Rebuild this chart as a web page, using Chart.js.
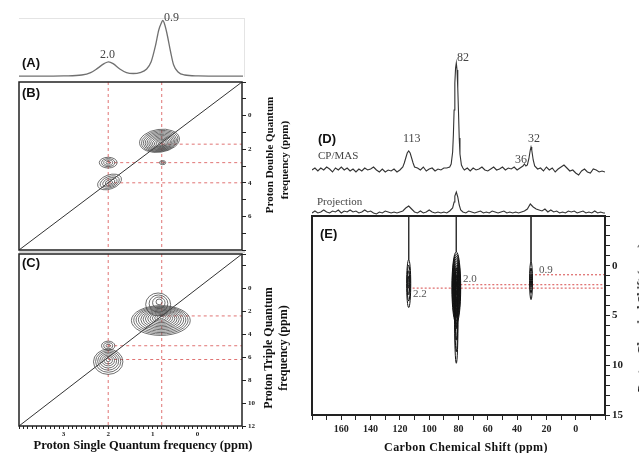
<!DOCTYPE html>
<html>
<head>
<meta charset="utf-8">
<script src="https://cdn.jsdelivr.net/npm/chart.js@4.4.1/dist/chart.umd.min.js"></script>
<style>
body { margin: 0; width: 639px; height: 453px; background: #fff; position: relative; overflow: hidden; }
.t { position: absolute; white-space: nowrap; font-family: "Liberation Serif", "DejaVu Serif", serif; color: #444; line-height: 1; }
.lab { font-family: "Liberation Sans", Arial, sans-serif; font-weight: bold; font-size: 13px; color: #111; }
.ttl { font-weight: bold; color: #111; }
.rot { transform: translate(-50%, -50%) rotate(-90deg); }
.ctr { transform: translate(-50%, -50%); }
</style>
</head>
<body>
<div id="charts"></div>

<div style="position:absolute;left:19px;top:18px;width:225px;height:58px;border-top:1px solid #e4e4e4;border-right:1px solid #e4e4e4"></div>
<div style="position:absolute;left:19px;top:251px;width:226px;height:2px;background:#d6d6d6"></div>

<div class="t lab" style="left:22px;top:56px">(A)</div>
<div class="t" style="left:100px;top:48px;font-size:12px">2.0</div>
<div class="t" style="left:164px;top:11px;font-size:12px">0.9</div>
<div class="t lab" style="left:22px;top:86px">(B)</div>
<div class="t lab" style="left:22px;top:256px">(C)</div>

<div class="t ttl rot" style="left:269px;top:155px;font-size:11px">Proton Double Quantum</div>
<div class="t ttl rot" style="left:284px;top:160px;font-size:11px">frequency (ppm)</div>
<div class="t ttl rot" style="left:268px;top:348px;font-size:12px">Proton Triple Quantum</div>
<div class="t ttl rot" style="left:283px;top:348px;font-size:12px">frequency (ppm)</div>
<div class="t ttl ctr" style="left:143px;top:445px;font-size:12.5px">Proton Single Quantum frequency (ppm)</div>

<div class="t lab" style="left:318px;top:132px">(D)</div>
<div class="t" style="left:318px;top:150px;font-size:11px">CP/MAS</div>
<div class="t" style="left:317px;top:196px;font-size:11px">Projection</div>
<div class="t" style="left:403px;top:132px;font-size:12px">113</div>
<div class="t" style="left:457px;top:51px;font-size:12px">82</div>
<div class="t" style="left:515px;top:153px;font-size:12px">36</div>
<div class="t" style="left:528px;top:132px;font-size:12px">32</div>

<div class="t lab" style="left:320px;top:227px">(E)</div>
<div class="t" style="left:413px;top:288px;font-size:11px;color:#555">2.2</div>
<div class="t" style="left:463px;top:273px;font-size:11px;color:#555">2.0</div>
<div class="t" style="left:539px;top:264px;font-size:11px;color:#555">0.9</div>
<div class="t ttl rot" style="left:642px;top:318px;font-size:12px">Proton Chemical Shift (ppm)</div>
<div class="t ttl ctr" style="left:466px;top:447px;font-size:12px;letter-spacing:0.4px">Carbon Chemical Shift (ppm)</div>

<script>
// axis ranges (ppm)
const sqRange = [-1, 4];
const dqRange = [-2, 8];
const tqRange = [-3, 12];
const carbonRange = [-20, 180];
const hetcorRange = [-5, 15];

// tick labels
const sqTickLabels = [3, 2, 1, 0];
const dqTickLabels = [0, 2, 4, 6];
const tqTickLabels = [0, 2, 4, 6, 8, 10, 12];
const carbonTickLabels = [160, 140, 120, 100, 80, 60, 40, 20, 0];
const hetcorTickLabels = [0, 5, 10, 15];

// (A) 1H MAS spectrum [ppm, intensity]
const protonSpectrum = [
  [4.0, 0.03], [3.5, 0.03], [3.0, 0.035], [2.6, 0.05], [2.4, 0.09], [2.25, 0.16], [2.1, 0.24],
  [2.0, 0.27], [1.9, 0.24], [1.75, 0.15], [1.6, 0.09], [1.45, 0.075], [1.3, 0.09], [1.15, 0.15],
  [1.05, 0.27], [0.95, 0.55], [0.88, 0.8], [0.82, 0.92], [0.79, 0.96], [0.76, 0.92], [0.7, 0.75],
  [0.62, 0.45], [0.55, 0.22], [0.45, 0.1], [0.3, 0.05], [0.0, 0.035], [-0.5, 0.03], [-1.0, 0.03]
];

// guide lines
const sqGuides = [2.0, 0.8];
const dqCuts = [[0.8, 1.7], [2.0, 2.8], [2.0, 4.0]];
const tqCuts = [[0.8, 2.4], [2.0, 5.0], [2.0, 6.2]];
const dqDiagonal = [[-1, -2], [4, 8]];
const tqDiagonal = [[-1, -3], [4, 12]];

// contour peaks: [x, y, rx, ry, levels, inner x, inner y, tilt deg]
const dqPeaks = [
  [0.85, 1.5, 0.45, 0.68, 12, 0.8, 1.72, -8],
  [2.0, 2.8, 0.2, 0.32, 4, 2.0, 2.8, 0],
  [1.97, 3.95, 0.28, 0.42, 5, 1.95, 4.0, -20],
  [0.78, 2.8, 0.07, 0.12, 2, 0.78, 2.8, 0]
];
const tqPeaks = [
  [0.82, 2.8, 0.66, 1.3, 13, 0.8, 2.5, 0],
  [0.88, 1.4, 0.28, 1.0, 4, 0.85, 1.1, 0],
  [2.0, 5.0, 0.15, 0.4, 3, 2.0, 5.0, 0],
  [2.0, 6.4, 0.33, 1.1, 7, 2.0, 6.2, 0]
];

// (D) 13C CP/MAS [ppm, height]
const cpmas = [
  [180, 10], [178, 12], [176, 9], [174, 12], [172, 10], [170, 13], [168, 11], [166, 8], [164, 12],
  [162, 10], [160, 13], [158, 10], [156, 12], [154, 9], [152, 11], [150, 8], [148, 11], [146, 9],
  [144, 12], [142, 10], [140, 11], [138, 13], [136, 10], [134, 8], [132, 11], [130, 8], [128, 10],
  [126, 9], [124, 11], [122, 8], [120, 10], [118, 13], [117, 17], [116, 22], [115, 27], [114, 29],
  [113, 27], [112, 22], [111, 17], [110, 13], [108, 12], [106, 10], [104, 13], [102, 9], [100, 11],
  [98, 12], [96, 9], [94, 11], [92, 10], [90, 12], [88, 12], [86, 13], [85, 16], [84, 28],
  [83.5, 45], [83, 70], [82.5, 97], [82, 112], [81.5, 117], [81, 110], [80.5, 92], [80, 68],
  [79.5, 42], [79, 26], [78, 15], [77, 12], [76, 10],
  [74, 12], [72, 9], [70, 12], [68, 10], [66, 11], [64, 13], [62, 10], [60, 9], [58, 11], [56, 13],
  [54, 10], [52, 11], [50, 13], [48, 10], [46, 12], [44, 11], [42, 13], [40, 10], [38, 12], [36, 14],
  [35, 16], [34, 14], [33, 15], [32, 21], [31, 30], [30.5, 33], [30, 30], [29, 20], [28, 14], [26, 11],
  [24, 12], [22, 9], [20, 13], [18, 10], [16, 12], [14, 8], [12, 11], [10, 13], [8, 15], [6, 12],
  [4, 9], [2, 10], [0, 7], [-2, 5], [-4, 9], [-6, 11], [-8, 8], [-10, 7], [-12, 11], [-14, 10],
  [-16, 8], [-18, 9], [-20, 8]
];

// projection of the HETCOR [ppm, height]
const projection = [
  [180, 3], [178, 5], [176, 3], [174, 4], [172, 6], [170, 4], [168, 3], [166, 5], [164, 4], [162, 6],
  [160, 3], [158, 5], [156, 4], [154, 6], [152, 4], [150, 5], [148, 3], [146, 4], [144, 6], [142, 4],
  [140, 5], [138, 3], [136, 2], [134, 4], [132, 3], [130, 5], [128, 4], [126, 3], [124, 4], [122, 3],
  [120, 4], [118, 5], [116, 8], [114, 10], [112, 7], [110, 4], [108, 3], [106, 5], [104, 3], [102, 4],
  [100, 6], [98, 4], [96, 3], [94, 4], [92, 3], [90, 4], [88, 3], [86, 5], [84, 8], [83, 14],
  [82.5, 20], [81.5, 24], [80.5, 19], [79.5, 11], [78.5, 6], [77, 4], [75, 3], [73, 5], [71, 4], [69, 3], [67, 4], [65, 5],
  [63, 3], [61, 4], [59, 3], [57, 5], [55, 4], [53, 3], [51, 4], [49, 5], [47, 3], [45, 4], [43, 3],
  [41, 4], [39, 3], [37, 4], [35, 5], [33, 7], [31, 12], [29, 9], [27, 7], [25, 6], [23, 5], [21, 7],
  [19, 4], [17, 6], [15, 4], [13, 5], [11, 3], [9, 4], [7, 3], [5, 5], [3, 4], [1, 5], [-1, 3],
  [-3, 4], [-5, 5], [-7, 3], [-9, 4], [-11, 3], [-13, 5], [-15, 3], [-17, 4], [-19, 3], [-20, 3]
];

// (E) HETCOR
const hetcorPeaks = [
  [114, 1.8, 1.4, 2.4, 4, 114, 1.6, 0],
  [81.5, 2.2, 3.0, 3.6, 14, 81.5, 1.8, 0],
  [81.5, 5.0, 1.2, 4.8, 5, 81.5, 4.0, 0],
  [30.5, 1.5, 1.0, 1.9, 3, 30.5, 1.5, 0]
];
const hetcorLinks = [[114, -0.6], [81.5, -1.4], [30.5, -0.4]];
const hetcorCuts = [[30.5, 0.9], [81.5, 1.9], [114, 2.25]];

const serif = '"Liberation Serif", "DejaVu Serif", serif';
const red = '#e07474';
const ink = '#222';

function labelIf(list) {
  return v => {
    const hit = list.find(l => Math.abs(l - v) < 1e-6);
    return hit === undefined ? '' : String(hit);
  };
}

function line(points, color, width, dash) {
  return {
    data: points.map(([x, y]) => ({ x, y })),
    showLine: true, pointRadius: 0, borderColor: color, borderWidth: width,
    borderDash: dash || [], fill: false, tension: 0
  };
}

function frame(width) {
  return {
    id: 'frame',
    afterDraw(chart) {
      const { ctx, chartArea: a } = chart;
      ctx.save();
      ctx.strokeStyle = ink;
      ctx.lineWidth = width;
      ctx.strokeRect(a.left, a.top, a.right - a.left, a.bottom - a.top);
      ctx.restore();
    }
  };
}

function contours(peaks, color, width) {
  return {
    id: 'contours',
    afterDatasetsDraw(chart) {
      const { ctx, chartArea: a, scales: { x, y } } = chart;
      ctx.save();
      ctx.beginPath();
      ctx.rect(a.left, a.top, a.right - a.left, a.bottom - a.top);
      ctx.clip();
      ctx.strokeStyle = color;
      ctx.lineWidth = width;
      peaks.forEach(([px, py, rx, ry, n, ix, iy, tilt]) => {
        for (let k = 1; k <= n; k++) {
          const t = k / n;
          const cx = ix + (px - ix) * t, cy = iy + (py - iy) * t;
          const X = x.getPixelForValue(cx), Y = y.getPixelForValue(cy);
          const RX = Math.abs(x.getPixelForValue(cx + rx * t) - X);
          const RY = Math.abs(y.getPixelForValue(cy + ry * t) - Y);
          ctx.beginPath();
          ctx.ellipse(X, Y, RX, RY, tilt * Math.PI / 180, 0, Math.PI * 2);
          ctx.stroke();
        }
      });
      ctx.restore();
    }
  };
}

function hidden(range, rev) {
  return { type: 'linear', display: false, min: range[0], max: range[1], reverse: rev };
}

function rightAxis(range, step, labels, size, width, tick) {
  return {
    type: 'linear', position: 'right', min: range[0], max: range[1], reverse: true,
    afterFit: s => { s.width = width; s.paddingTop = 0; s.paddingBottom = 0; },
    border: { display: false },
    grid: { drawOnChartArea: false, tickLength: tick, color: ink },
    ticks: { stepSize: step, autoSkip: false, padding: 2, color: ink,
      font: { family: serif, size, weight: 'bold' }, callback: labelIf(labels) }
  };
}

function bottomAxis(range, step, labels, size, height, tick, pad) {
  return {
    type: 'linear', position: 'bottom', min: range[0], max: range[1], reverse: true,
    afterFit: s => { s.height = height; s.paddingLeft = 0; s.paddingRight = 0; },
    border: { display: false },
    grid: { drawOnChartArea: false, tickLength: tick, color: ink },
    ticks: { stepSize: step, autoSkip: false, maxRotation: 0, padding: pad, color: ink,
      font: { family: serif, size, weight: 'bold' }, callback: labelIf(labels) }
  };
}

function panel(left, top, w, h, datasets, scales, padding, plugins) {
  const c = document.createElement('canvas');
  c.width = w; c.height = h;
  c.style.cssText = `position:absolute;left:${left}px;top:${top}px;width:${w}px;height:${h}px`;
  document.getElementById('charts').appendChild(c);
  return new Chart(c, {
    type: 'scatter',
    data: { datasets },
    options: {
      responsive: false, animation: false, events: [],
      layout: { padding },
      plugins: { legend: { display: false }, tooltip: { enabled: false } },
      scales
    },
    plugins: plugins || []
  });
}

// (A)
panel(19, 18, 224, 60,
  [Object.assign(line(protonSpectrum, '#707070', 1.3), { cubicInterpolationMode: 'monotone' })],
  { x: hidden(sqRange, true), y: hidden([0, 1], false) }, 0);

// (B) double quantum
panel(18, 81, 249, 170, [
  line(dqDiagonal, '#333', 1),
  ...sqGuides.map(g => line([[g, dqRange[0]], [g, dqRange[1]]], red, 1, [3, 3])),
  ...dqCuts.map(([x, y]) => line([[x, y], [sqRange[0], y]], red, 1, [3, 3]))
], {
  x: hidden(sqRange, true),
  y: rightAxis(dqRange, 1, dqTickLabels, 7, 25, 4)
}, { left: 1, top: 1, bottom: 1, right: 0 }, [contours(dqPeaks, '#4a4a4a', 0.8), frame(1.5)]);

// (C) triple quantum
panel(18, 253, 249, 189, [
  line(tqDiagonal, '#333', 1),
  ...sqGuides.map(g => line([[g, tqRange[0]], [g, tqRange[1]]], red, 1, [3, 3])),
  ...tqCuts.map(([x, y]) => line([[x, y], [sqRange[0], y]], red, 1, [3, 3]))
], {
  x: bottomAxis(sqRange, 0.1, sqTickLabels, 7, 16, 3, 1),
  y: rightAxis(tqRange, 2, tqTickLabels, 7, 25, 4)
}, { left: 1, top: 1, bottom: 0, right: 0 }, [contours(tqPeaks, '#4a4a4a', 0.8), frame(1.5)]);

// (D) CP/MAS
panel(312, 50, 293, 130, [line(cpmas, '#333', 1.1)],
  { x: hidden(carbonRange, true), y: hidden([0, 130], false) }, 0);

// projection
panel(312, 185, 293, 31, [line(projection, '#333', 1.1)],
  { x: hidden(carbonRange, true), y: hidden([0, 31], false) }, 0);

// (E) HETCOR
panel(311, 215, 326, 228, [
  ...hetcorLinks.map(([x, y]) => line([[x, hetcorRange[0]], [x, y]], '#333', 1)),
  ...hetcorCuts.map(([x, y]) => line([[x, y], [carbonRange[0], y]], red, 1.3, [2, 2]))
], {
  x: bottomAxis(carbonRange, 10, carbonTickLabels, 10, 28, 5, 3),
  y: rightAxis(hetcorRange, 1, hetcorTickLabels, 11, 32, 5)
}, { left: 1, top: 1, bottom: 0, right: 0 }, [contours(hetcorPeaks, '#111', 1), frame(2)]);
</script>
</body>
</html>
